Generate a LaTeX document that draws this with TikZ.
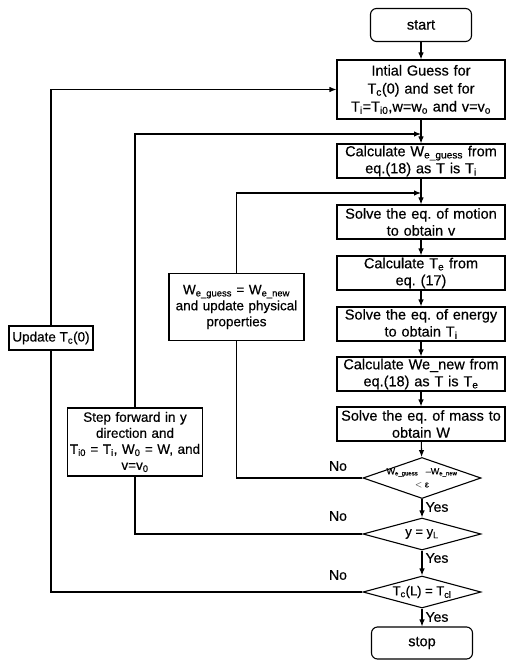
\documentclass[tikz,border=0pt]{standalone}
\usepackage{fontspec}
\setmainfont{Liberation Sans}[FakeBold=0.4]
\usetikzlibrary{shapes.geometric,arrows.meta}
\newcommand{\sbs}[1]{\textsubscript{#1}}
\frenchspacing
\begin{document}
\begin{tikzpicture}[x=1pt,y=-1pt,line width=1.1pt,
  box/.style={draw,align=center,text width=164pt,inner xsep=2pt,inner ysep=1pt,minimum height=34pt,font=\fontsize{14.5}{17}\selectfont},
  term/.style={draw,rounded corners=6pt,align=center,minimum width=101pt,minimum height=33pt,font=\fontsize{14.5}{17}\selectfont},
  lbox/.style={draw,align=center,inner xsep=2pt,inner ysep=1pt,font=\fontsize{13.5}{16}\selectfont},
  dia/.style={draw,diamond,inner sep=0pt,minimum width=118pt,minimum height=32pt},
  dtext/.style={align=center,inner sep=0pt,font=\fontsize{13}{15}\selectfont},
  lbl/.style={inner sep=1pt,font=\fontsize{14}{16}\selectfont},
  arr/.style={-{Latex[length=7pt,width=5.5pt]}}
]
\useasboundingbox (0,0) rectangle (507,660);

% main column
\node[term] (start) at (421,25) {start};
\node[box,minimum height=59pt,font=\fontsize{14.5}{18}\selectfont] (init) at (421,89.5)
  {Intial Guess for\\T\sbs{c}(0) and set for\\T\sbs{i}=T\sbs{i0},w=w\sbs{o} and v=v\sbs{o}};
\node[box] (calcW) at (421,161) {Calculate W\sbs{e\_guess} from\\eq.(18) as T is T\sbs{i}};
\node[box] (motion) at (421,222) {Solve the eq. of motion\\to obtain v};
\node[box] (calcTe) at (421,273) {Calculate T\sbs{e} from\\eq. (17)};
\node[box] (energy) at (421,324) {Solve the eq. of energy\\to obtain T\sbs{i}};
\node[box] (calcWn) at (421,374) {Calculate We\_new from\\eq.(18) as T is T\sbs{e}};
\node[box] (mass) at (421,424) {Solve the eq. of mass to\\obtain W};
\node[dia,minimum height=41pt] (d1) at (422,478) {};
\node[dtext,font=\fontsize{9}{12}\selectfont] at (d1) {W\sbs{e\_guess}\ \ \ --W\sbs{e\_new}\\[1pt]\(<\) ε};
\node[dia] (d2) at (422,534) {};
\node[dtext] at (d2) {y = y\sbs{L}};
\node[dia] (d3) at (422,592) {};
\node[dtext] at (d3) {T\sbs{c}(L) = T\sbs{cl}};
\node[term,minimum height=32pt] (stop) at (422,643) {stop};

% left boxes
\node[lbox,minimum width=84pt,minimum height=24pt] (update) at (51,338) {Update T\sbs{c}(0)};
\node[lbox,text width=131pt,minimum height=68pt] (step) at (135,442)
  {Step forward in y\\direction and\\T\sbs{i0} = T\sbs{i}, W\sbs{0} = W, and\\v=v\sbs{0}};
\node[lbox,text width=131pt,minimum height=67pt] (weg) at (236.5,307)
  {W\sbs{e\_guess} = W\sbs{e\_new}\\and update physical\\properties};

% junction points on main line
\coordinate (j2) at (421,134);
\coordinate (j1) at (421,193);

% main flow
\draw[arr] (start) -- (init);
\draw[arr] (init) -- (calcW);
\draw[arr] (calcW) -- (motion);
\draw[arr] (motion) -- (calcTe);
\draw[arr] (calcTe) -- (energy);
\draw[arr] (energy) -- (calcWn);
\draw[arr] (calcWn) -- (mass);
\draw[arr] (mass) -- (d1);
\draw[arr] (d1) -- (d2);
\draw[arr] (d2) -- (d3);
\draw[arr] (d3) -- (stop);

% labels
\node[lbl,anchor=west] (y1) at (424,507) {Yes};
\node[lbl,anchor=west] (y2) at (424,558) {Yes};
\node[lbl,anchor=west] (y3) at (424,617) {Yes};
\node[lbl] (n1) at (338,466) {No};
\node[lbl] (n2) at (338,516) {No};
\node[lbl] (n3) at (338,575) {No};

% loops
\draw (d1.west) -| (weg.south);
\draw[arr] (weg.north) |- (j1);
\draw (d2.west) -| (step.south);
\draw[arr] (step.north) |- (j2);
\draw (d3.west) -| (update.south);
\draw[arr] (update.north) |- (init.west);
\end{tikzpicture}
\end{document}
